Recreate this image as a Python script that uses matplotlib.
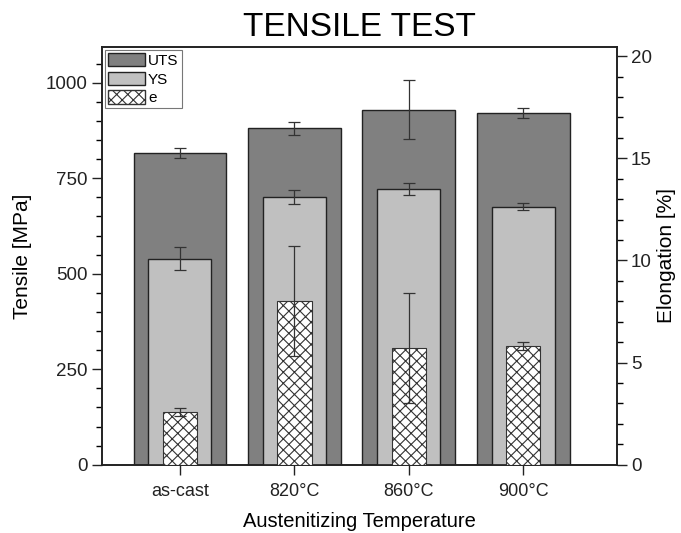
import matplotlib
matplotlib.use("Agg")
import matplotlib.pyplot as plt
import numpy as np
from matplotlib.ticker import MultipleLocator
from matplotlib.patches import Patch

plt.rcParams['font.family'] = ['Liberation Sans', 'DejaVu Sans']
plt.rcParams['hatch.color'] = '#555555'
plt.rcParams['hatch.linewidth'] = 0.8

categories = ["as-cast", "820°C", "860°C", "900°C"]
uts = [817, 881, 930, 920]
uts_err = [13, 17, 78, 13]
ys = [539, 701, 722, 676]
ys_err = [30, 19, 15, 10]
elong = [2.6, 8.0, 5.7, 5.8]
elong_err = [0.2, 2.7, 2.7, 0.2]

x = np.arange(len(categories))

fig = plt.figure(figsize=(6.81, 5.33), dpi=100)
ax = fig.add_axes([0.150, 0.128, 0.756, 0.784])
ax2 = ax.twinx()

ekw = dict(ecolor='#333333', elinewidth=0.9, capsize=4, capthick=0.9)
ax.bar(x, uts, width=0.81, color='#808080', edgecolor='#222222', linewidth=1.0,
       yerr=uts_err, error_kw=ekw, zorder=2, label='UTS')
ax.bar(x, ys, width=0.55, color='#c0c0c0', edgecolor='#222222', linewidth=1.0,
       yerr=ys_err, error_kw=ekw, zorder=3, label='YS')
ax2.bar(x, elong, width=0.30, color='white', edgecolor='#333333', linewidth=0.8,
        hatch='xxx', yerr=elong_err, error_kw=ekw, zorder=4, label='e')

ax.set_xlim(-0.68, 3.82)
ax.set_ylim(0, 1094)
ax2.set_ylim(0, 20.45)

ax.set_xticks(x)
ax.set_xticklabels(categories)
ax.yaxis.set_major_locator(MultipleLocator(250))
ax.yaxis.set_minor_locator(MultipleLocator(50))
ax2.yaxis.set_major_locator(MultipleLocator(5))
ax2.yaxis.set_minor_locator(MultipleLocator(1))

for a in (ax, ax2):
    a.tick_params(axis='both', which='major', direction='out', length=7, width=1.0,
                  labelsize=13.5, colors='#222222')
    a.tick_params(axis='both', which='minor', direction='out', length=4, width=1.0)
    for s in a.spines.values():
        s.set_linewidth(1.2)
        s.set_color('#222222')
ax.tick_params(axis='x', labelsize=13, pad=6)
ax2.tick_params(axis='y', which='major', pad=3)

ax.set_ylabel('Tensile [MPa]', fontsize=15, labelpad=10)
ax2.set_ylabel('Elongation [%]', fontsize=15, labelpad=4)
ax.set_xlabel('Austenitizing Temperature', fontsize=14.5, labelpad=9)
ax.set_title('TENSILE TEST', fontsize=24, pad=8)

handles = [Patch(facecolor='#808080', edgecolor='#222222', label='UTS'),
           Patch(facecolor='#c0c0c0', edgecolor='#222222', label='YS'),
           Patch(facecolor='white', edgecolor='#333333', hatch='xxx', label='e')]
leg = ax2.legend(handles=handles, loc='upper left', fontsize=11, frameon=True,
                 fancybox=False, edgecolor='#555555', handlelength=2.4,
                 handleheight=0.95, handletextpad=0.2, labelspacing=0.25,
                 borderpad=0.2, borderaxespad=0.2)
leg.get_frame().set_linewidth(0.8)

fig.savefig('out.png', dpi=100)
